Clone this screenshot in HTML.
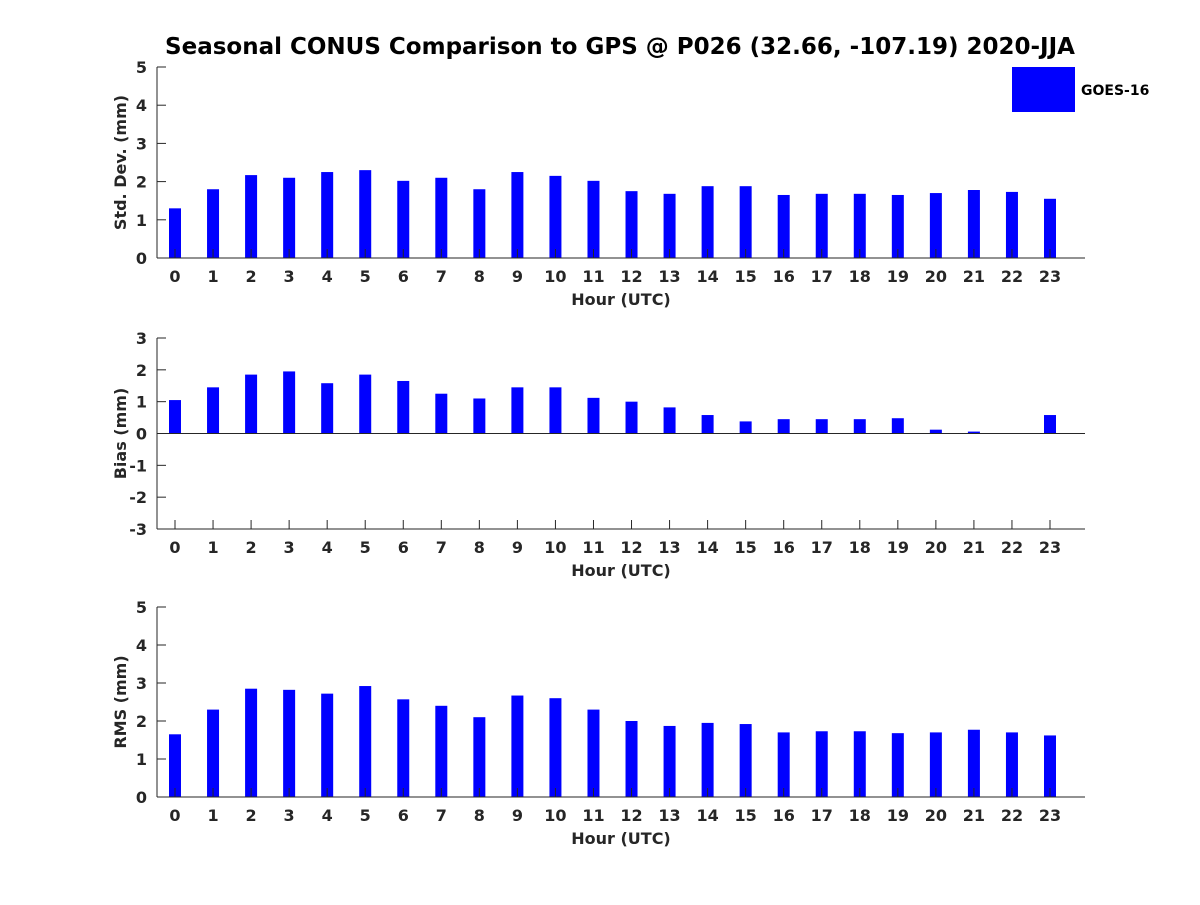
<!DOCTYPE html>
<html><head><meta charset="utf-8"><style>
body{margin:0;background:#fff;}
svg text{font-family:"DejaVu Sans","Liberation Sans",sans-serif;font-weight:bold;fill:#262626;}
</style></head><body>
<svg id="chart" width="1200" height="900" xmlns="http://www.w3.org/2000/svg">
<text x="620" y="54" text-anchor="middle" font-size="23" style="fill:#000">Seasonal CONUS Comparison to GPS @ P026 (32.66, -107.19) 2020-JJA</text>
<rect x="1012" y="67" width="63" height="45" fill="#0000ff"/>
<text x="1081" y="95" font-size="14" style="fill:#000">GOES-16</text>
<g id="plots"></g>
</svg>
<script>
const hours = [0,1,2,3,4,5,6,7,8,9,10,11,12,13,14,15,16,17,18,19,20,21,22,23];
const stdDev = [1.3,1.8,2.17,2.1,2.25,2.3,2.02,2.1,1.8,2.25,2.15,2.02,1.75,1.68,1.88,1.88,1.65,1.68,1.68,1.65,1.7,1.78,1.73,1.55];
const bias = [1.05,1.45,1.85,1.95,1.58,1.85,1.65,1.25,1.1,1.45,1.45,1.12,1.0,0.82,0.58,0.38,0.45,0.45,0.45,0.48,0.12,0.06,0.0,0.58];
const rms = [1.65,2.3,2.85,2.82,2.72,2.92,2.57,2.4,2.1,2.67,2.6,2.3,2.0,1.87,1.95,1.92,1.7,1.73,1.73,1.68,1.7,1.77,1.7,1.62];
const stdTicks = [0,1,2,3,4,5];
const biasTicks = [-3,-2,-1,0,1,2,3];
const rmsTicks = [0,1,2,3,4,5];
const NS="http://www.w3.org/2000/svg";
const g=document.getElementById('plots');
function mk(tag,attrs,parent){const e=document.createElementNS(NS,tag);for(const k in attrs)e.setAttribute(k,attrs[k]);(parent||g).appendChild(e);return e;}
const x0=157,x1=1085;
function xs(h){return 175+h*(1050-175)/23;}
function panel(name,vals,ticks,yTop,yBot,ylabel){
  const lo=ticks[0],hi=ticks[ticks.length-1];
  const ys=v=>yBot-(v-lo)/(hi-lo)*(yBot-yTop);
  const grp=mk('g',{});
  
  
  vals.forEach((v,i)=>{
    const a=ys(Math.max(v,0)),b=ys(Math.min(v,0));
    const r=mk('rect',{x:xs(hours[i])-6,y:a,width:12,height:Math.max(b-a,0.5),fill:'#0000ff'},grp);
    
    
  });
  const ya=mk('line',{x1:x0,x2:x0,y1:yTop,y2:yBot,stroke:'#262626','stroke-width':1},grp);
  
  
  const y0=lo<0?ys(0):yBot;
  mk('line',{x1:x0,x2:x1,y1:y0,y2:y0,stroke:'#262626','stroke-width':1},grp);
  const xa=mk('line',{x1:x0,x2:x1,y1:yBot,y2:yBot,stroke:'#262626','stroke-width':1},grp);
  
  
  ticks.forEach(t=>{
    const y=ys(t);
    mk('line',{x1:x0,x2:x0+9,y1:y,y2:y,stroke:'#262626'},grp);
    const tx=mk('text',{x:x0-10,y:y+6,'text-anchor':'end','font-size':16},grp);
    tx.textContent=t;
    
    
  });
  hours.forEach(h=>{
    const x=xs(h);
    mk('line',{x1:x,x2:x,y1:yBot,y2:yBot-9,stroke:'#262626'},grp);
    const tx=mk('text',{x:x,y:yBot+24,'text-anchor':'middle','font-size':16},grp);
    tx.textContent=h;
    
    
  });
  const xl=mk('text',{x:621,y:yBot+47,'text-anchor':'middle','font-size':16},grp);
  xl.textContent='Hour (UTC)';
  
  
  const cy=(yTop+yBot)/2;
  const yl=mk('text',{x:126,y:cy,'text-anchor':'middle','font-size':16,transform:'rotate(-90 126 '+cy+')'},grp);
  yl.textContent=ylabel;
  
  
}
panel('std-dev',stdDev,stdTicks,67,258,'Std. Dev. (mm)');
panel('bias',bias,biasTicks,338,529,'Bias (mm)');
panel('rms',rms,rmsTicks,607,797,'RMS (mm)');
</script>
</body></html>
